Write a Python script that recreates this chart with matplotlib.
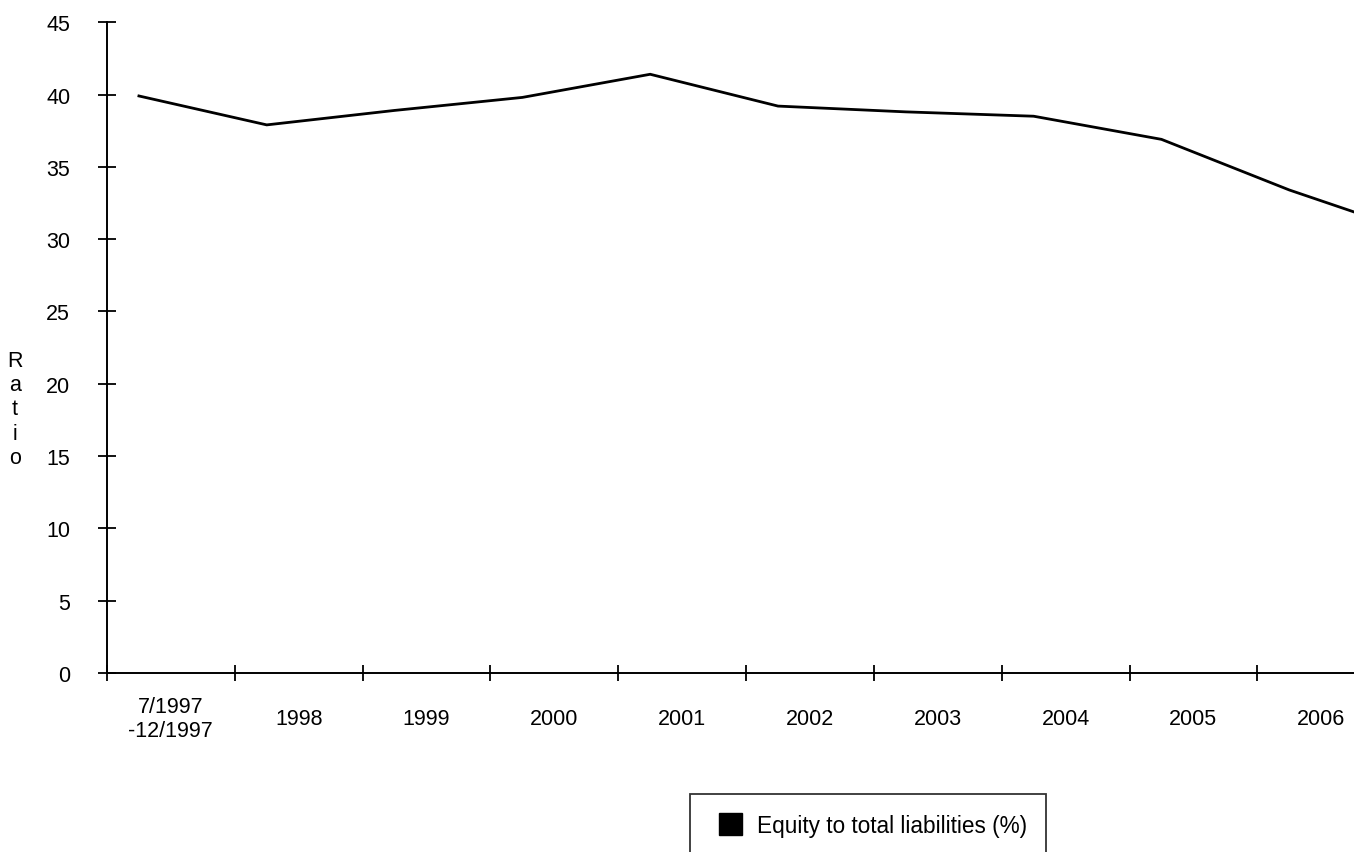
import numpy as np
import matplotlib.pyplot as plt
from matplotlib.patches import Patch, Rectangle
from matplotlib.legend_handler import HandlerPatch

# Equity to total liabilities (%), one value per period
periods = ["7/1997\n-12/1997", "1998", "1999", "2000", "2001",
           "2002", "2003", "2004", "2005", "2006"]
equity_ratio = [39.9, 37.9, 38.9, 39.8, 41.4, 39.2, 38.8, 38.5, 36.9, 33.4, 30.4]
y_ticks = [0, 5, 10, 15, 20, 25, 30, 35, 40, 45]

plt.rcParams["font.family"] = ["Liberation Sans", "DejaVu Sans"]
FS = 15.5
LEG_FS = 16.3

fig = plt.figure(figsize=(13.54, 8.53), dpi=100, facecolor="white")
ax = fig.add_axes([0.079, 0.2098, 0.944, 0.763])

# points sit a quarter of a category in from the left boundary
x = np.arange(len(equity_ratio)) + 0.25
ax.plot(x, equity_ratio, color="black", lw=2.0, solid_joinstyle="miter")

ax.set_xlim(0, len(periods))
ax.set_ylim(0, 45)

for side in ("top", "right"):
    ax.spines[side].set_visible(False)
for side in ("left", "bottom"):
    ax.spines[side].set_linewidth(1.4)

ax.set_yticks(y_ticks)
ax.tick_params(axis="y", direction="inout", length=13, width=1.3,
               pad=20, labelsize=FS)

# boundaries get the cross ticks, labels go in the middle of each period
ax.set_xticks(np.arange(len(periods) + 1))
ax.set_xticklabels([])
ax.tick_params(axis="x", which="major", direction="inout", length=11, width=1.3)
ax.set_xticks(np.arange(len(periods)) + 0.5, minor=True)
ax.set_xticklabels(periods, minor=True)
ax.tick_params(axis="x", which="minor", length=0, pad=33, labelsize=FS)
for lbl in ax.get_xticklabels(minor=True):
    lbl.set_va("center")
    lbl.set_multialignment("center")

fig.text(15 / 1354, 1 - 410 / 853, "R\na\nt\ni\no", ha="center", va="center",
         fontsize=FS, linespacing=1.2)


def square_right(legend, orig_handle, xdescent, ydescent, width, height, fontsize):
    # solid square pushed to the right end of the handle slot
    w = 16.6
    return Rectangle((-xdescent + width - w, -ydescent), w, height)


leg = fig.legend(handles=[Patch(facecolor="black", edgecolor="black",
                                label="Equity to total liabilities (%)")],
                 handler_map={Patch: HandlerPatch(patch_func=square_right)},
                 loc="upper left", bbox_to_anchor=(690 / 1354, 1 - 795 / 853),
                 fontsize=LEG_FS, frameon=True, fancybox=False, shadow=False,
                 borderpad=0.85, handlelength=1.46, handleheight=1.1,
                 handletextpad=0.65, borderaxespad=0)
leg.get_frame().set_edgecolor("black")
leg.get_frame().set_linewidth(1.3)

fig.savefig("out.png", dpi=100, facecolor="white")
